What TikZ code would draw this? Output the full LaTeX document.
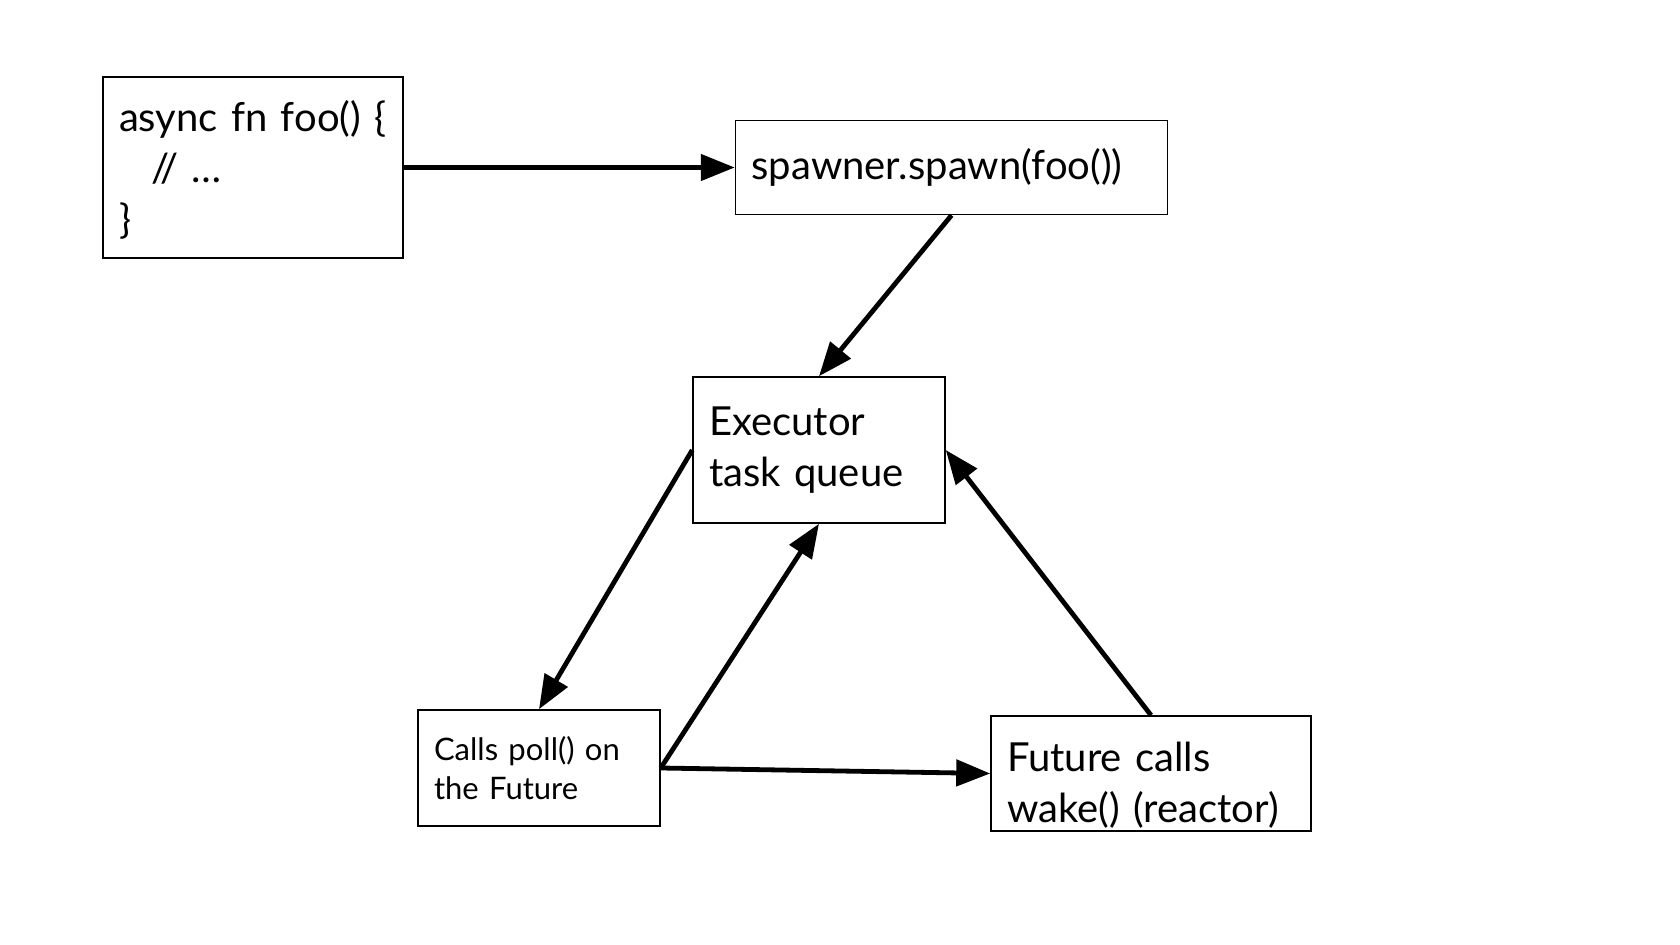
\documentclass[tikz,border=0pt]{standalone}
\usepackage{fontspec}
\setmainfont{Lato}
\usepackage{tikz}
\usetikzlibrary{arrows.meta, positioning}

\begin{document}
\begin{tikzpicture}[
  x=0.5pt, y=-0.5pt,
  every node/.style={font=\fontsize{20}{25.5}\selectfont},
  box/.style={rectangle, draw=black, line width=0.75pt,
              align=left, inner xsep=8pt, inner ysep=0pt},
  small/.style={font=\fontsize{15.5}{19.3}\selectfont},
  arr/.style={-{Triangle[length=17pt, width=13pt]}, line width=2.4pt, black},
]
\useasboundingbox (0,0) rectangle (1680,945);

%% source and spawn (top row)
\node[box, text width=134pt, minimum height=90.5pt, text depth=52pt] (asyncfn) at (253,167.5)
  {\mbox{async fn foo() \{}\\\hspace*{16pt}// …\\\}};
\node[box, text width=200pt, minimum height=47pt, right=165.5pt of asyncfn] (spawner)
  {spawner.spawn(foo())};

%% executor loop
\node[box, text width=110pt, minimum height=73pt] (executor) at (819,450)
  {Executor\\task queue};
\node[box, small, text width=105pt, minimum height=58pt] (poll) at (539,768)
  {Calls poll() on\\the Future};
\node[box, text width=144pt, minimum height=57.5pt, text depth=17pt] (wake) at (1151,773.5)
  {Future calls\\wake() (reactor)};

\draw[arr] (asyncfn)       -- (spawner);
\draw[arr] (spawner.south) -- (executor.north);
\draw[arr] (executor.west) -- (poll.north);
\draw[arr] (poll.east)     -- (executor.south);
\draw[arr] (poll.east)     -- (wake.west);
\draw[arr] (wake.north)    -- (executor.east);

\end{tikzpicture}
\end{document}
